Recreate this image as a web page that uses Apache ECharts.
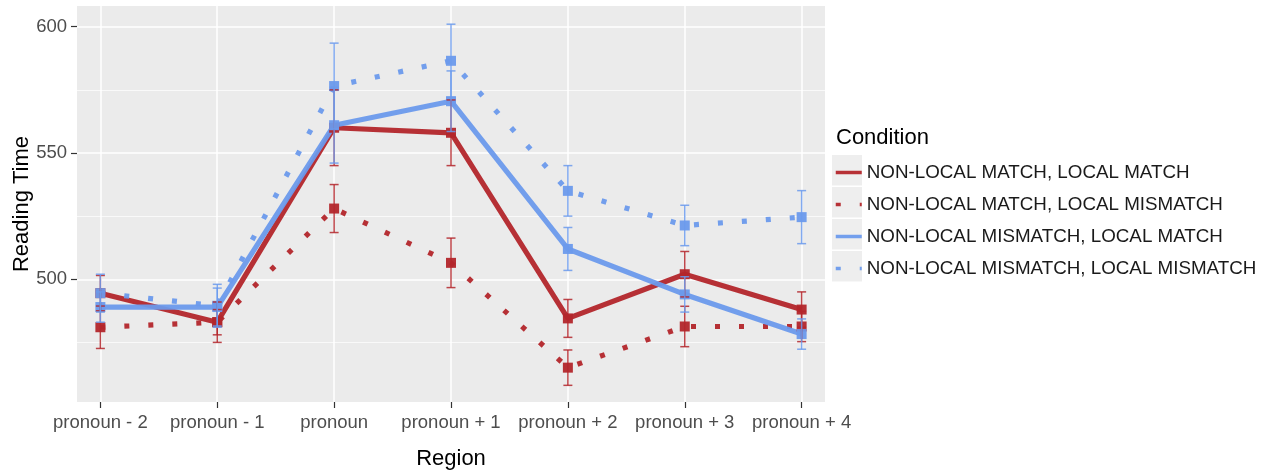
<!DOCTYPE html>
<html>
<head>
<meta charset="utf-8">
<script src="https://cdn.jsdelivr.net/npm/echarts@6/dist/echarts.min.js"></script>
<style>html,body{margin:0;padding:0;background:#fff;}#c{width:1270px;height:471px;}</style>
</head>
<body>
<div id="c"></div>
<script>
const categories = ['pronoun - 2','pronoun - 1','pronoun','pronoun + 1','pronoun + 2','pronoun + 3','pronoun + 4'];
const seriesNames = ['NON-LOCAL MATCH, LOCAL MATCH','NON-LOCAL MATCH, LOCAL MISMATCH','NON-LOCAL MISMATCH, LOCAL MATCH','NON-LOCAL MISMATCH, LOCAL MISMATCH'];
const matchMatchMean = [494.5, 483, 560, 558, 484.5, 502, 488];
const matchMatchSE = [7, 5, 15, 13, 7.5, 9, 7];
const matchMismatchMean = [481, 483, 528, 506.5, 465, 481.3, 481.3];
const matchMismatchSE = [8.4, 8, 9.5, 9.8, 7, 8, 6];
const mismatchMatchMean = [489, 489, 561, 570.5, 512, 494, 478.3];
const mismatchMatchSE = [6, 7.5, 15, 12, 8.5, 7, 6];
const mismatchMismatchMean = [494.5, 489.5, 576.5, 586.5, 535, 521.3, 524.6];
const mismatchMismatchSE = [7.5, 8.5, 17, 14.5, 10, 8, 10.5];
const yMajorTicks = [500, 550, 600];
const yMinorTicks = [475, 525, 575];

const RED = '#B3262B', BLUE = '#6B9AEC';
const FONT = '"Liberation Sans", Arial, sans-serif';
const means = [matchMatchMean, matchMismatchMean, mismatchMatchMean, mismatchMismatchMean];
const ses = [matchMatchSE, matchMismatchSE, mismatchMatchSE, mismatchMismatchSE];
const colors = [RED, RED, BLUE, BLUE];
const dotted = [false, true, false, true];
const xIdx = categories.map((c, i) => i);

const series = [];
seriesNames.forEach((name, k) => {
  series.push({
    name: name, type: 'line', symbol: 'none', z: 3,
    data: means[k].map((v, i) => [i, v]),
    lineStyle: { color: colors[k], width: 5.2, type: dotted[k] ? [5, 19] : 'solid', cap: 'butt', opacity: 0.95 },
    itemStyle: { color: colors[k] }
  });
});
seriesNames.forEach((name, k) => {
  series.push({
    type: 'scatter', symbol: 'rect', symbolSize: 10, z: 4, silent: true,
    data: means[k].map((v, i) => [i, v]),
    itemStyle: { color: colors[k], opacity: 0.95 }
  });
  series.push({
    type: 'custom', z: 5, silent: true,
    data: means[k].map((v, i) => [i, v - ses[k][i], v + ses[k][i]]),
    renderItem: function (params, api) {
      const lo = api.coord([api.value(0), api.value(1)]);
      const hi = api.coord([api.value(0), api.value(2)]);
      const hw = 4.5;
      const st = { stroke: colors[k], lineWidth: 1.5, opacity: 0.85 };
      return { type: 'group', children: [
        { type: 'line', shape: { x1: lo[0], y1: lo[1], x2: hi[0], y2: hi[1] }, style: st },
        { type: 'line', shape: { x1: lo[0] - hw, y1: lo[1], x2: lo[0] + hw, y2: lo[1] }, style: st },
        { type: 'line', shape: { x1: hi[0] - hw, y1: hi[1], x2: hi[0] + hw, y2: hi[1] }, style: st }
      ]};
    }
  });
});

const keyRects = seriesNames.map((n, k) => ({
  type: 'rect', left: 832, top: 155 + k * 32, z: -1,
  shape: { width: 30, height: 30.5 }, style: { fill: '#EEEEEE' }
}));
const yTitle = {
  type: 'text', x: 22, y: 204, rotation: Math.PI / 2,
  style: { text: 'Reading Time', fontSize: 22, fontFamily: FONT, fill: '#000', align: 'center', verticalAlign: 'middle' }
};

const chart = echarts.init(document.getElementById('c'));
chart.setOption({
  animation: false,
  textStyle: { fontFamily: FONT },
  title: { text: 'Condition', left: 831, top: 122, textStyle: { fontSize: 22, fontWeight: 'normal', color: '#000', fontFamily: FONT } },
  legend: {
    data: seriesNames, orient: 'vertical', left: 829, top: 158,
    itemWidth: 26, itemHeight: 14, itemGap: 13,
    itemStyle: { opacity: 0 },
    lineStyle: { width: 3.5 },
    textStyle: { fontSize: 18.8, color: '#1a1a1a', fontFamily: FONT },
    selectedMode: false
  },
  graphic: keyRects.concat([yTitle]),
  grid: { left: 77, top: 6, width: 748, height: 396, show: true, backgroundColor: '#EBEBEB', borderWidth: 0, containLabel: false, outerBoundsMode: 'none' },
  xAxis: {
    type: 'value', min: -0.2, max: 6.2,
    axisLine: { show: false, onZero: false },
    axisTick: { show: true, length: 6, lineStyle: { color: '#333', width: 1.2 }, customValues: xIdx },
    axisLabel: { customValues: xIdx, formatter: v => categories[Math.round(v)], color: '#4D4D4D', fontSize: 18.5, margin: 11, fontFamily: FONT },
    splitLine: { show: true, lineStyle: { color: '#FFFFFF', width: 1.5 } },
    name: 'Region', nameLocation: 'middle', nameGap: 46,
    nameTextStyle: { fontSize: 22, color: '#000', fontFamily: FONT }
  },
  yAxis: [{
    type: 'value', min: 451.4, max: 608.2,
    axisLine: { show: false, onZero: false },
    axisTick: { show: true, length: 6, lineStyle: { color: '#333', width: 1.2 }, customValues: yMajorTicks },
    axisLabel: { customValues: yMajorTicks, color: '#4D4D4D', fontSize: 18.5, margin: 10, fontFamily: FONT },
    splitLine: { show: true, lineStyle: { color: '#FFFFFF', width: 1.5 } }
  }, {
    type: 'value', min: 451.4, max: 608.2, position: 'left',
    axisLine: { show: false, onZero: false },
    axisTick: { show: false, customValues: yMinorTicks },
    axisLabel: { show: false, customValues: yMinorTicks },
    splitLine: { show: true, lineStyle: { color: '#FFFFFF', width: 0.7 } }
  }],
  series: series
});
</script>
</body>
</html>
